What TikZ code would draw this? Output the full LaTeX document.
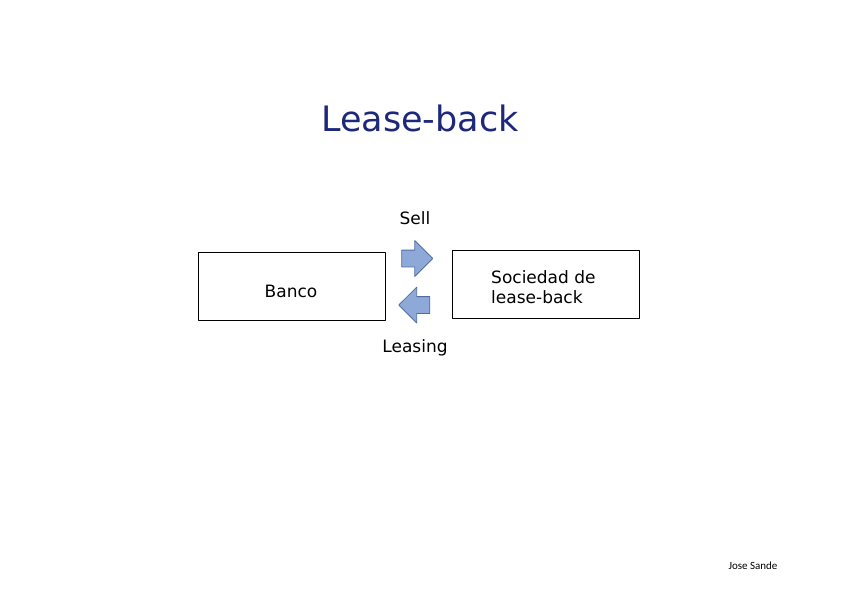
\documentclass[tikz,border=0pt]{standalone}
\usepackage{fontspec}
\setmainfont{DejaVu Sans}
\newfontfamily\notefont{Carlito}
\usetikzlibrary{shapes.arrows}
\definecolor{titleblue}{RGB}{30,40,122}
\definecolor{arrowfill}{RGB}{142,169,216}
\definecolor{arrowline}{RGB}{79,110,160}
\tikzset{
	box/.style={draw, line width=.8pt, minimum width=187pt, minimum height=68pt, inner sep=0pt},
	flowarrow/.style={single arrow, draw=arrowline, fill=arrowfill, line width=.8pt,
		minimum height=31pt, inner xsep=0pt, inner ysep=8pt, single arrow head extend=9.5pt},
	lbl/.style={font=\fontsize{17}{20}\selectfont}
}
\begin{document}
\begin{tikzpicture}[x=1pt, y=-1pt, line join=round]
	\useasboundingbox[fill=white] (0,0) rectangle (842,595);
	\node[text=titleblue, font=\fontsize{35}{40}\selectfont] (title) at (420,118) {Lease-back};
	% the two parties
	\node[box] (banco) at (291.5,286) {};
	\node[lbl] (bancotext) at (291,291) {Banco};
	\node[box] (sociedad) at (545.5,284.5) {};
	\node[lbl, anchor=west, align=left, inner sep=0pt] (soctext) at (491,287) {Sociedad de\\lease-back};
	% arrows between them
	\node[flowarrow] (sellarrow) at (413,258.5) {};
	\node[flowarrow, shape border rotate=180] (leasearrow) at (418.5,305) {};
	\node[lbl] (sell) at (415,218) {Sell};
	\node[lbl] (leasing) at (415,348) {Leasing};
	\node[font=\notefont\fontsize{11}{13}\selectfont] (author) at (753,566) {Jose Sande};
\end{tikzpicture}
\end{document}
